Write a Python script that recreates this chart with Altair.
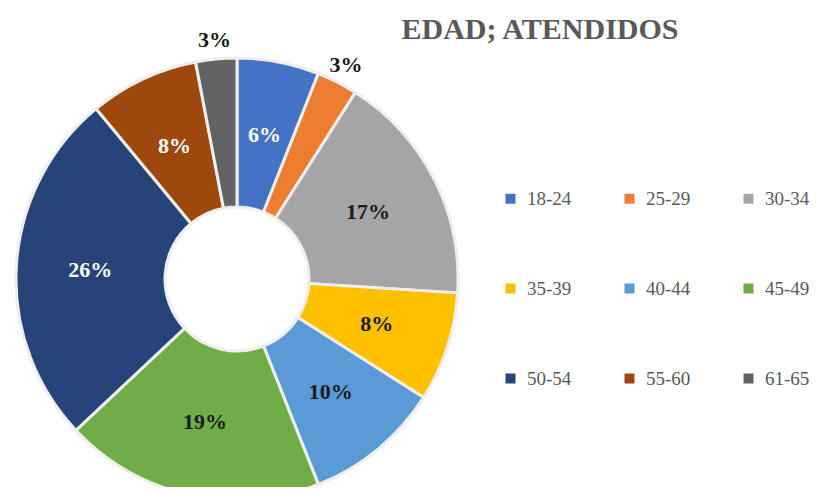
import altair as alt
import pandas as pd

edades = ["18-24", "25-29", "30-34", "35-39", "40-44", "45-49", "50-54", "55-60", "61-65"]
porcentajes = [6, 3, 17, 8, 10, 19, 26, 8, 3]
colores = ["#4472C4", "#ED7D31", "#A5A5A5", "#FFC000", "#5B9BD5", "#70AD47", "#264478", "#9E480E", "#636363"]
etiquetas_claras = ["18-24", "50-54", "55-60"]
titulo = "EDAD; ATENDIDOS"

df = pd.DataFrame({
    "edad": edades,
    "valor": porcentajes,
    "orden": list(range(len(edades))),
    "etiqueta": [f"{v}%" for v in porcentajes],
})

CX, CY = 229, 271

base = alt.Chart(df).encode(
    theta=alt.Theta("valor:Q", stack=True),
    order=alt.Order("orden:Q"),
    x=alt.value(CX),
    y=alt.value(CY),
)

arcs = base.mark_arc(
    outerRadius=221, innerRadius=72, stroke="#eeeeee", strokeWidth=3
).encode(
    color=alt.Color(
        "edad:N",
        scale=alt.Scale(domain=edades, range=colores),
        sort=edades,
        legend=alt.Legend(
            title=None,
            orient="none",
            direction="horizontal",
            legendX=493,
            legendY=181,
            columns=3,
            columnPadding=48,
            rowPadding=70,
            symbolType="square",
            symbolSize=100,
            symbolStrokeWidth=0,
            labelFont="Liberation Serif",
            labelFontSize=19,
            labelColor="#595959",
            labelOffset=7,
        ),
    )
)

light_test = "indexof(" + str(etiquetas_claras) + ", datum.edad) >= 0"

inner_text = base.mark_text(
    radius=147, font="Liberation Serif", fontSize=22, fontWeight="bold"
).encode(
    detail="edad:N",
    text=alt.condition("datum.valor >= 5", alt.Text("etiqueta:N"), alt.value("")),
    color=alt.condition(light_test, alt.value("#ffffff"), alt.value("#1a1a1a")),
)

outer_text = base.mark_text(
    radius=240, font="Liberation Serif", fontSize=22, fontWeight="bold", color="#1a1a1a"
).encode(
    detail="edad:N",
    text=alt.condition("datum.valor < 5", alt.Text("etiqueta:N"), alt.value("")),
)

chart = alt.layer(arcs, inner_text, outer_text).properties(
    width=806,
    height=479,
    autosize=alt.AutoSizeParams(type="none"),
    padding=0,
    title=alt.TitleParams(
        titulo,
        anchor="middle",
        dx=129,
        dy=41,
        font="Liberation Serif",
        fontSize=30,
        fontWeight="bold",
        color="#595959",
    ),
).configure_view(stroke=None)

chart.save("out.html", embed_options={"renderer": "svg", "actions": False})
